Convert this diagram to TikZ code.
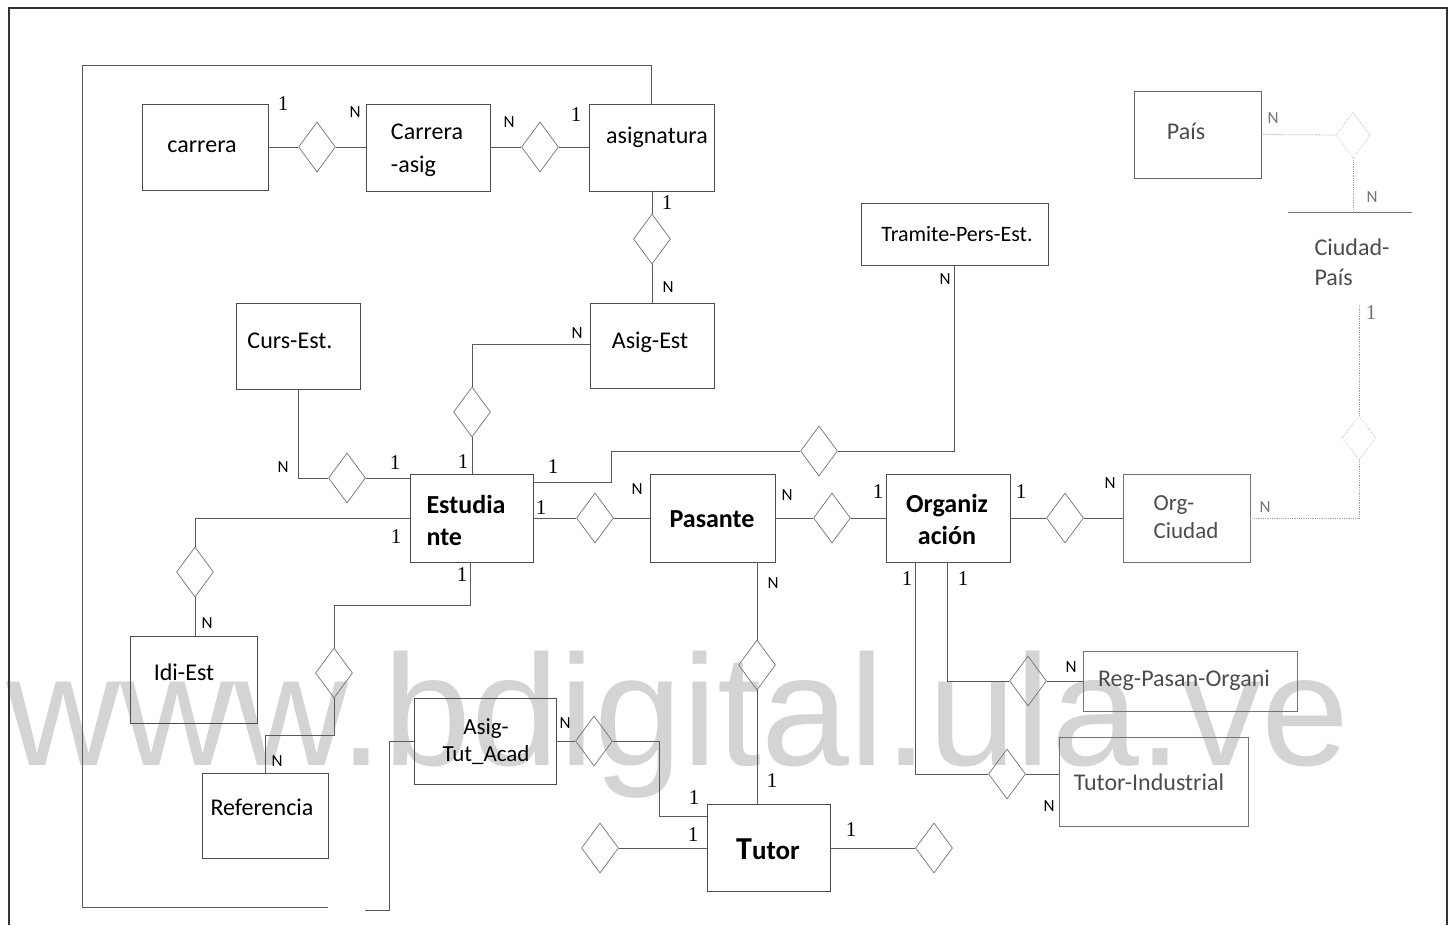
\documentclass[tikz,border=0pt]{standalone}
\usepackage{fontspec}
\setmainfont{Carlito}
\newfontfamily\serifone{Liberation Serif}
\newfontfamily\wmfont{Liberation Sans}
\usetikzlibrary{shapes.geometric}
\tikzset{
  ent/.style={draw=black!70, line width=0.9pt, rectangle, inner sep=0pt},
  txt/.style={font=\fontsize{24}{29}\selectfont, inner sep=0pt},
  ltxt/.style={font=\fontsize{24}{29}\selectfont, inner sep=0pt, text=black!70},
  btxt/.style={font=\bfseries\fontsize{26}{32}\selectfont, inner sep=0pt},
  dia/.style={draw=black!55, line width=0.7pt, diamond, inner sep=0pt, minimum width=37pt, minimum height=50pt},
  fdia/.style={draw=black!25, line width=0.7pt, densely dotted, diamond, inner sep=0pt, minimum width=34pt, minimum height=46pt},
  conn/.style={draw=black!65, line width=0.9pt},
  fconn/.style={draw=black!35, line width=0.8pt, densely dotted},
  card/.style={font=\fontsize{17}{20}\selectfont, inner sep=0pt},
  fcard/.style={font=\fontsize{17}{20}\selectfont, inner sep=0pt, text=black!55},
  one/.style={font=\serifone\fontsize{21}{24}\selectfont, inner sep=0pt},
  fone/.style={font=\serifone\fontsize{21}{24}\selectfont, inner sep=0pt, text=black!55},
  frame/.style={draw=black!80, line width=1.3pt},
  wm/.style={font=\wmfont\fontsize{158}{162}\selectfont, text=black!17, inner sep=0pt}
}
\begin{document}
\begin{tikzpicture}[x=1pt,y=-1pt]
\useasboundingbox (0,0) rectangle (1455,927);
% watermark
\node[wm, anchor=base west] (wm) at (6,765) {www.bdigital.ula.ve};
% frame
\coordinate (fr1) at (9,925);
\coordinate (fr2) at (9,8);
\coordinate (fr3) at (1447,8);
\coordinate (fr4) at (1447,925);
\draw[frame] (fr1) -- (fr2) -- (fr3) -- (fr4);

% entities
\node[ent, minimum width=126pt, minimum height=86pt] (carrera) at (205,147) {};
\node[txt] (tcarrera) at (202,147) {carrera};
\node[ent, minimum width=124pt, minimum height=87pt] (cas) at (428,147.5) {};
\node[txt, align=left, font=\fontsize{24}{33}\selectfont] (tcas) at (427,150) {Carrera\\-asig};
\node[ent, minimum width=125pt, minimum height=87pt] (asig) at (651.5,147.5) {};
\node[txt] (tasig) at (657,137) {asignatura};
\node[ent, draw=black!60, minimum width=127pt, minimum height=87pt] (pais) at (1197.5,134.5) {};
\node[ltxt] (tpais) at (1186,131) {País};
\node[ent, minimum width=187pt, minimum height=62pt] (tram) at (954.5,234) {};
\node[txt, font=\fontsize{22}{26}\selectfont] (ttram) at (957,234) {Tramite-Pers-Est.};
\node[ent, minimum width=124pt, minimum height=86pt] (curs) at (298,346) {};
\node[txt] (tcurs) at (290,341) {Curs-Est.};
\node[ent, minimum width=124pt, minimum height=85pt] (asigest) at (652,345.5) {};
\node[txt] (tasigest) at (650,342) {Asig-Est};
\node[ent, minimum width=123pt, minimum height=88pt] (est) at (471.5,518) {};
\node[btxt, align=left] (test) at (466,520) {Estudia\\nte};
\node[ent, minimum width=125pt, minimum height=88pt] (pas) at (712.5,518) {};
\node[btxt] (tpas) at (712,519) {Pasante};
\node[ent, minimum width=124pt, minimum height=88pt] (org) at (948,518) {};
\node[btxt, align=center] (torg) at (947,519) {Organiz\\ación};
\node[ent, draw=black!55, minimum width=127pt, minimum height=88pt] (orgc) at (1186.5,518) {};
\node[ltxt, align=left, font=\fontsize{23}{28}\selectfont] (torgc) at (1186,517) {Org-\\Ciudad};
\node[ent, minimum width=127pt, minimum height=87pt] (idi) at (193.5,679.5) {};
\node[txt] (tidi) at (184,672) {Idi-Est};
\node[ent, minimum width=126pt, minimum height=85pt] (ref) at (265,815.5) {};
\node[txt] (tref) at (262,807) {Referencia};
\node[ent, minimum width=142pt, minimum height=86pt] (atut) at (485,741) {};
\node[txt, align=center, font=\fontsize{23}{27}\selectfont] (tatut) at (486,742) {Asig-\\Tut\_Acad};
\node[ent, minimum width=123pt, minimum height=87pt] (tutor) at (768.5,847.5) {};
\node[btxt, font=\bfseries\fontsize{27}{32}\selectfont] (ttutor) at (768,849) {{\fontsize{32}{36}\selectfont T}utor};
\node[ent, draw=black!55, minimum width=214pt, minimum height=60pt] (regp) at (1190,681) {};
\node[ltxt] (tregp) at (1184,680) {Reg-Pasan-Organi};
\node[ent, draw=black!55, minimum width=189pt, minimum height=89pt] (ti) at (1153.5,781.5) {};
\node[ltxt] (tti) at (1149,782) {Tutor-Industrial};
% Ciudad-Pais (only top edge visible)
\node[inner sep=0pt, minimum width=123pt, minimum height=86pt] (cp) at (1350,256) {};
\node[ltxt, align=left, font=\fontsize{24}{30}\selectfont] (tcp) at (1352,262) {Ciudad-\\País};
\draw[draw=black!55, line width=0.9pt] (cp.north west) -- (cp.north east);

% relationships
\node[dia] (d1) at (317,147) {};
\node[dia] (d2) at (540,147) {};
\node[dia] (d3) at (652,239) {};
\node[fdia] (d4) at (1353,135) {};
\node[dia] (d5) at (472,412) {};
\node[dia] (d6) at (347,478) {};
\node[dia] (d7) at (819,451) {};
\node[dia] (d8) at (595,518) {};
\node[dia] (d9) at (832,518) {};
\node[dia] (d10) at (1065,518) {};
\node[fdia, minimum height=44pt] (d11) at (1359,438) {};
\node[dia] (d12) at (195,572) {};
\node[dia] (d13) at (334,673) {};
\node[dia] (d14) at (757,665) {};
\node[dia] (d15) at (594,741) {};
\node[dia] (d16) at (1028,681) {};
\node[dia] (d17) at (1007,774) {};
\node[dia] (d18) at (600,848) {};
\node[dia] (d19) at (934,848) {};

% helper coordinates
\coordinate (lpA) at (82,65);
\coordinate (lpB) at (82,907);
\coordinate (lpC) at (328,907);
\coordinate (sgA) at (365,910);
\coordinate (sgB) at (389,741);
\coordinate (tA) at (611,451);
\coordinate (rA) at (334,605);
\coordinate (rC) at (265,735);
\coordinate (tB) at (659,816);
\coordinate (cpB) at (1359,305);

% connectors
\draw[conn] (carrera.east) -- (d1.west);
\draw[conn] (d1.east) -- (d1.east -| cas.west);
\draw[conn] (cas.east |- d2.west) -- (d2.west);
\draw[conn] (d2.east) -- (d2.east -| asig.west);
\draw[conn] (d3.north |- asig.south) -- (d3.north);
\draw[conn] (d3.south) -- (d3.south |- asigest.north);
\draw[conn] (asig.north) |- (lpA) -- (lpB) -- (lpC);
\draw[conn] (sgA) -| (sgB) -- (atut.west);
\draw[conn] ([yshift=1.5pt]asigest.west) -| (d5.north);
\draw[conn] (d5.south) -- (d5.south |- est.north);
\draw[conn] (curs.south) |- (d6.west);
\draw[conn] (d6.east) -- (d6.east -| est.west);
\draw[conn] ([yshift=-9pt]est.north east) -| (tA) -- (d7.west);
\draw[conn] (d7.east) -| (tram.south);
\draw[conn] (est.east) -- (d8.west);
\draw[conn] (d8.east) -- (pas.west);
\draw[conn] (pas.east) -- (d9.west);
\draw[conn] (d9.east) -- (org.west);
\draw[conn] (org.east) -- (d10.west);
\draw[conn] (d10.east) -- (orgc.west);
\draw[fconn] (orgc.east) -| (d11.south);
\draw[fconn] (d11.north) -- (cpB);
\draw[fconn] (pais.east) -- (d4.west);
\draw[fconn] (d4.south) -- (d4.south |- cp.north);
\draw[conn] (est.west) -| (d12.north);
\draw[conn] (d12.south) -- (d12.south |- idi.north);
\draw[conn] ([xshift=-1.5pt]est.south) |- (rA) -- (d13.north);
\draw[conn] (d13.south) |- (rC) -- (ref.north);
\draw[conn] (d14.north |- pas.south) -- (d14.north);
\draw[conn] (d14.south) -- (d14.south |- tutor.north);
\draw[conn] (atut.east) -- (d15.west);
\draw[conn] (d15.east) -| (tB) -- (tB -| tutor.west);
\draw[conn] (d18.east) -- (d18.east -| tutor.west);
\draw[conn] (tutor.east |- d19.west) -- (d19.west);
\draw[conn] ([xshift=-1pt]org.south) |- (d16.west);
\draw[conn] (d16.east) -- (d16.east -| regp.west);
\draw[conn] ([xshift=-33pt]org.south) |- (d17.west);
\draw[conn] (d17.east) -- (d17.east -| ti.west);

% cardinalities
\node[one] (c1) at (283,104) {1};
\node[card] (c2) at (355,112) {N};
\node[card] (c3) at (509,122) {N};
\node[one] (c4) at (576,115) {1};
\node[one] (c5) at (667,203) {1};
\node[card] (c6) at (668,287) {N};
\node[fcard] (c7) at (1273,118) {N};
\node[fcard] (c8) at (1372,197) {N};
\node[fone] (c9) at (1371,313) {1};
\node[card] (c10) at (945,279) {N};
\node[card] (c11) at (577,333) {N};
\node[one] (c12) at (463,462) {1};
\node[card] (c13) at (283,467) {N};
\node[one] (c14) at (395,463) {1};
\node[one] (c15) at (553,467) {1};
\node[one] (c16) at (541,508) {1};
\node[card] (c17) at (637,489) {N};
\node[card] (c18) at (787,495) {N};
\node[one] (c19) at (878,492) {1};
\node[one] (c20) at (1021,492) {1};
\node[card] (c21) at (1110,483) {N};
\node[fcard] (c22) at (1265,507) {N};
\node[one] (c23) at (396,537) {1};
\node[card] (c24) at (207,623) {N};
\node[one] (c25) at (462,575) {1};
\node[card] (c26) at (277,761) {N};
\node[card] (c27) at (773,583) {N};
\node[one] (c28) at (772,781) {1};
\node[one] (c29) at (907,579) {1};
\node[one] (c30) at (963,579) {1};
\node[card] (c31) at (565,723) {N};
\node[one] (c32) at (694,798) {1};
\node[one] (c33) at (693,835) {1};
\node[one] (c34) at (851,830) {1};
\node[card] (c35) at (1071,667) {N};
\node[card] (c36) at (1049,806) {N};
\end{tikzpicture}
\end{document}
